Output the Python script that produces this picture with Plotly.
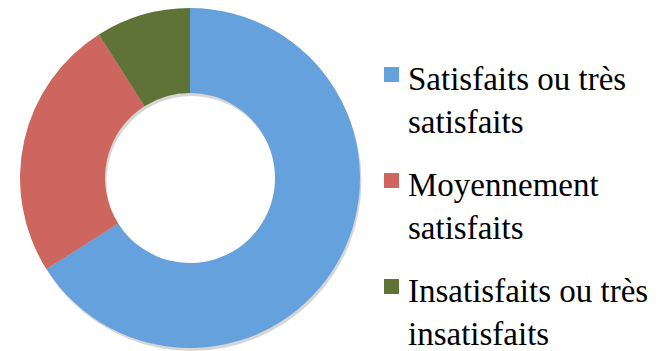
import plotly.graph_objects as go

# Satisfaction breakdown (percent)
categories = ["Satisfaits ou très<br>satisfaits",
              "Moyennement<br>satisfaits",
              "Insatisfaits ou très<br>insatisfaits"]
values = [66, 25, 9]
colors = ["#65A1DC", "#CC665E", "#607337"]

W, H = 667, 351
cx, cy, r = 190, 178, 170  # donut centre and outer radius in px
SERIF = "Liberation Serif"

def dom(dx=0, dy=0):
    x0 = (cx - r + dx) / W
    x1 = (cx + r + dx) / W
    y0 = (H - (cy + r + dy)) / H
    y1 = (H - (cy - r + dy)) / H
    return dict(x=[x0, x1], y=[y0, y1])

fig = go.Figure()

# soft drop shadow under the ring
fig.add_trace(go.Pie(
    values=[1], domain=dom(1.5, 3), hole=0.5, sort=False,
    marker=dict(colors=["rgba(0,0,0,0.16)"], line=dict(width=0)),
    textinfo="none", hoverinfo="skip", showlegend=False,
))

fig.add_trace(go.Pie(
    labels=categories, values=values, domain=dom(), hole=0.5,
    sort=False, direction="clockwise", rotation=0,
    marker=dict(colors=colors, line=dict(width=0)),
    textinfo="none", showlegend=False,
))

# key: coloured square + serif label for each slice
key_x, text_x = 384, 407        # px from left
first_top, step = 60, 106       # px from top
sq = 15
for i, (lab, col) in enumerate(zip(categories, colors)):
    top = first_top + i * step
    sq_top = top + 7
    fig.add_shape(
        type="rect", xref="paper", yref="paper",
        x0=key_x / W, x1=(key_x + sq) / W,
        y0=1 - (sq_top + sq) / H, y1=1 - sq_top / H,
        fillcolor=col, line=dict(width=0),
    )
    fig.add_annotation(
        x=text_x / W, y=1 - top / H, xref="paper", yref="paper",
        xanchor="left", yanchor="top", align="left", showarrow=False,
        text=lab, borderpad=0,
        font=dict(family=SERIF, size=33, color="#000000"),
    )

fig.update_layout(
    width=W, height=H,
    margin=dict(l=0, r=0, t=0, b=0),
    paper_bgcolor="white", plot_bgcolor="white",
    xaxis=dict(visible=False), yaxis=dict(visible=False),
    font=dict(family=SERIF, color="#000000"),
    showlegend=False,
)

fig.write_html("out.html")
